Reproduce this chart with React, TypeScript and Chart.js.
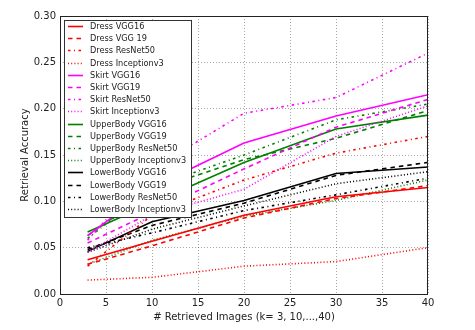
import React, { useEffect, useRef } from 'react';
import { Chart, registerables } from 'chart.js';

Chart.register(...registerables);

// ---- data ----
const kValues = [3, 10, 20, 30, 40];
const xTicks = [0, 5, 10, 15, 20, 25, 30, 35, 40];
const yTicks = [0, 0.05, 0.1, 0.15, 0.2, 0.25, 0.3];

const seriesNames = [
  'Dress VGG16', 'Dress VGG 19', 'Dress ResNet50', 'Dress Inceptionv3',
  'Skirt VGG16', 'Skirt VGG19', 'Skirt ResNet50', 'Skirt Inceptionv3',
  'UpperBody VGG16', 'UpperBody VGG19', 'UpperBody ResNet50', 'UpperBody Inceptionv3',
  'LowerBody VGG16', 'LowerBody VGG19', 'LowerBody ResNet50', 'LowerBody Inceptionv3',
];

const dressVGG16 = [0.037, 0.057, 0.085, 0.105, 0.115];
const dressVGG19 = [0.032, 0.052, 0.082, 0.103, 0.117];
const dressResNet50 = [0.030, 0.085, 0.123, 0.152, 0.170];
const dressInception = [0.015, 0.018, 0.030, 0.035, 0.050];

const skirtVGG16 = [0.063, 0.115, 0.163, 0.192, 0.215];
const skirtVGG19 = [0.055, 0.088, 0.135, 0.180, 0.210];
const skirtResNet50 = [0.058, 0.135, 0.195, 0.212, 0.260];
const skirtInception = [0.045, 0.085, 0.113, 0.170, 0.203];

const upperVGG16 = [0.067, 0.098, 0.142, 0.178, 0.193];
const upperVGG19 = [0.063, 0.112, 0.145, 0.168, 0.198];
const upperResNet50 = [0.060, 0.115, 0.150, 0.188, 0.205];
const upperInception = [0.032, 0.058, 0.084, 0.101, 0.123];

const lowerVGG16 = [0.046, 0.078, 0.101, 0.130, 0.137];
const lowerVGG19 = [0.048, 0.074, 0.098, 0.128, 0.142];
const lowerResNet50 = [0.050, 0.066, 0.090, 0.107, 0.125];
const lowerInception = [0.045, 0.070, 0.095, 0.119, 0.132];

const seriesValues = [
  dressVGG16, dressVGG19, dressResNet50, dressInception,
  skirtVGG16, skirtVGG19, skirtResNet50, skirtInception,
  upperVGG16, upperVGG19, upperResNet50, upperInception,
  lowerVGG16, lowerVGG19, lowerResNet50, lowerInception,
];

// ---- styles ----
const groupColors = ['#ff0000', '#ff00ff', '#008000', '#000000'];
const modelDashes = [[], [4.5, 4], [2.5, 3.5, 1, 3.5], [1, 2.2]];
const FONT = 'DejaVu Sans';
const TEXT = '#222222';

const overlayPlugin = {
  id: 'overlay',
  afterDatasetsDraw(chart: any) {
    const ctx = chart.ctx;
    const ca = chart.chartArea;
    ctx.save();
    // frame
    ctx.strokeStyle = '#222222';
    ctx.lineWidth = 1;
    ctx.setLineDash([]);
    ctx.strokeRect(ca.left + 0.5, ca.top + 0.5, ca.right - ca.left - 1, ca.bottom - ca.top);
    // legend
    const lx = ca.left + 4;
    const ly = ca.top + 4;
    const lw = 127;
    const rowH = 12.2;
    const lh = 197;
    ctx.fillStyle = '#ffffff';
    ctx.fillRect(lx, ly, lw, lh);
    ctx.strokeStyle = '#333333';
    ctx.strokeRect(lx + 0.5, ly + 0.5, lw, lh);
    ctx.font = `8.2px "${FONT}"`;
    ctx.textBaseline = 'middle';
    ctx.textAlign = 'left';
    chart.data.datasets.forEach((ds: any, i: number) => {
      const cy = Math.round(ly + 6 + i * rowH) + 0.5;
      ctx.beginPath();
      ctx.strokeStyle = ds.borderColor;
      ctx.lineWidth = 1.6;
      ctx.setLineDash(ds.borderDash || []);
      ctx.moveTo(lx + 4, cy);
      ctx.lineTo(lx + 19, cy);
      ctx.stroke();
      ctx.setLineDash([]);
      ctx.fillStyle = TEXT;
      ctx.fillText(ds.label, lx + 26, cy);
    });
    ctx.restore();
  },
};

export default function App() {
  const canvasRef = useRef<HTMLCanvasElement | null>(null);

  useEffect(() => {
    if (!canvasRef.current) return;
    const datasets = seriesNames.map((name, i) => ({
      label: name,
      data: kValues.map((k, j) => ({ x: k, y: seriesValues[i][j] })),
      borderColor: groupColors[Math.floor(i / 4)],
      backgroundColor: groupColors[Math.floor(i / 4)],
      borderDash: modelDashes[i % 4],
      borderWidth: 1.6,
      pointRadius: 0,
      tension: 0,
      fill: false,
    }));

    const chart = new Chart(canvasRef.current, {
      type: 'line',
      data: { datasets },
      options: {
        animation: false,
        responsive: false,
        maintainAspectRatio: false,
        layout: { padding: { top: 16, right: 47, bottom: 0, left: 0 } },
        plugins: {
          legend: { display: false },
          tooltip: { enabled: false },
        },
        scales: {
          x: {
            type: 'linear',
            min: 0,
            max: 40,
            afterBuildTicks: (s: any) => { s.ticks = xTicks.map((v) => ({ value: v })); },
            afterFit: (s: any) => { s.height = 36; },
            ticks: {
              color: TEXT,
              font: { family: FONT, size: 10 },
              padding: 3,
              maxRotation: 0,
              callback: (v: any) => String(v),
            },
            grid: { color: 'rgba(0,0,0,0.35)', lineWidth: 1, drawTicks: false },
            border: { display: false, dash: [1, 2] },
            title: {
              display: true,
              text: '# Retrieved Images (k= 3, 10,...,40)',
              color: TEXT,
              font: { family: FONT, size: 10 },
              padding: { top: 0, bottom: 7 },
            },
          },
          y: {
            type: 'linear',
            min: 0,
            max: 0.3,
            afterBuildTicks: (s: any) => { s.ticks = yTicks.map((v) => ({ value: v })); },
            afterFit: (s: any) => { s.width = 60; },
            ticks: {
              color: TEXT,
              font: { family: FONT, size: 10 },
              padding: 4,
              callback: (v: any) => Number(v).toFixed(2),
            },
            grid: { color: 'rgba(0,0,0,0.35)', lineWidth: 1, drawTicks: false },
            border: { display: false, dash: [1, 2] },
            title: {
              display: true,
              text: 'Retrieval Accuracy',
              color: TEXT,
              font: { family: FONT, size: 10 },
              padding: { top: 19, bottom: 0 },
            },
          },
        },
      },
      plugins: [overlayPlugin],
    });
    return () => chart.destroy();
  }, []);

  return (
    <div style={{ position: 'fixed', left: 0, top: 0, width: 475, height: 330, background: '#fff' }}>
      <canvas ref={canvasRef} width={475} height={330} style={{ display: 'block' }} />
    </div>
  );
}
